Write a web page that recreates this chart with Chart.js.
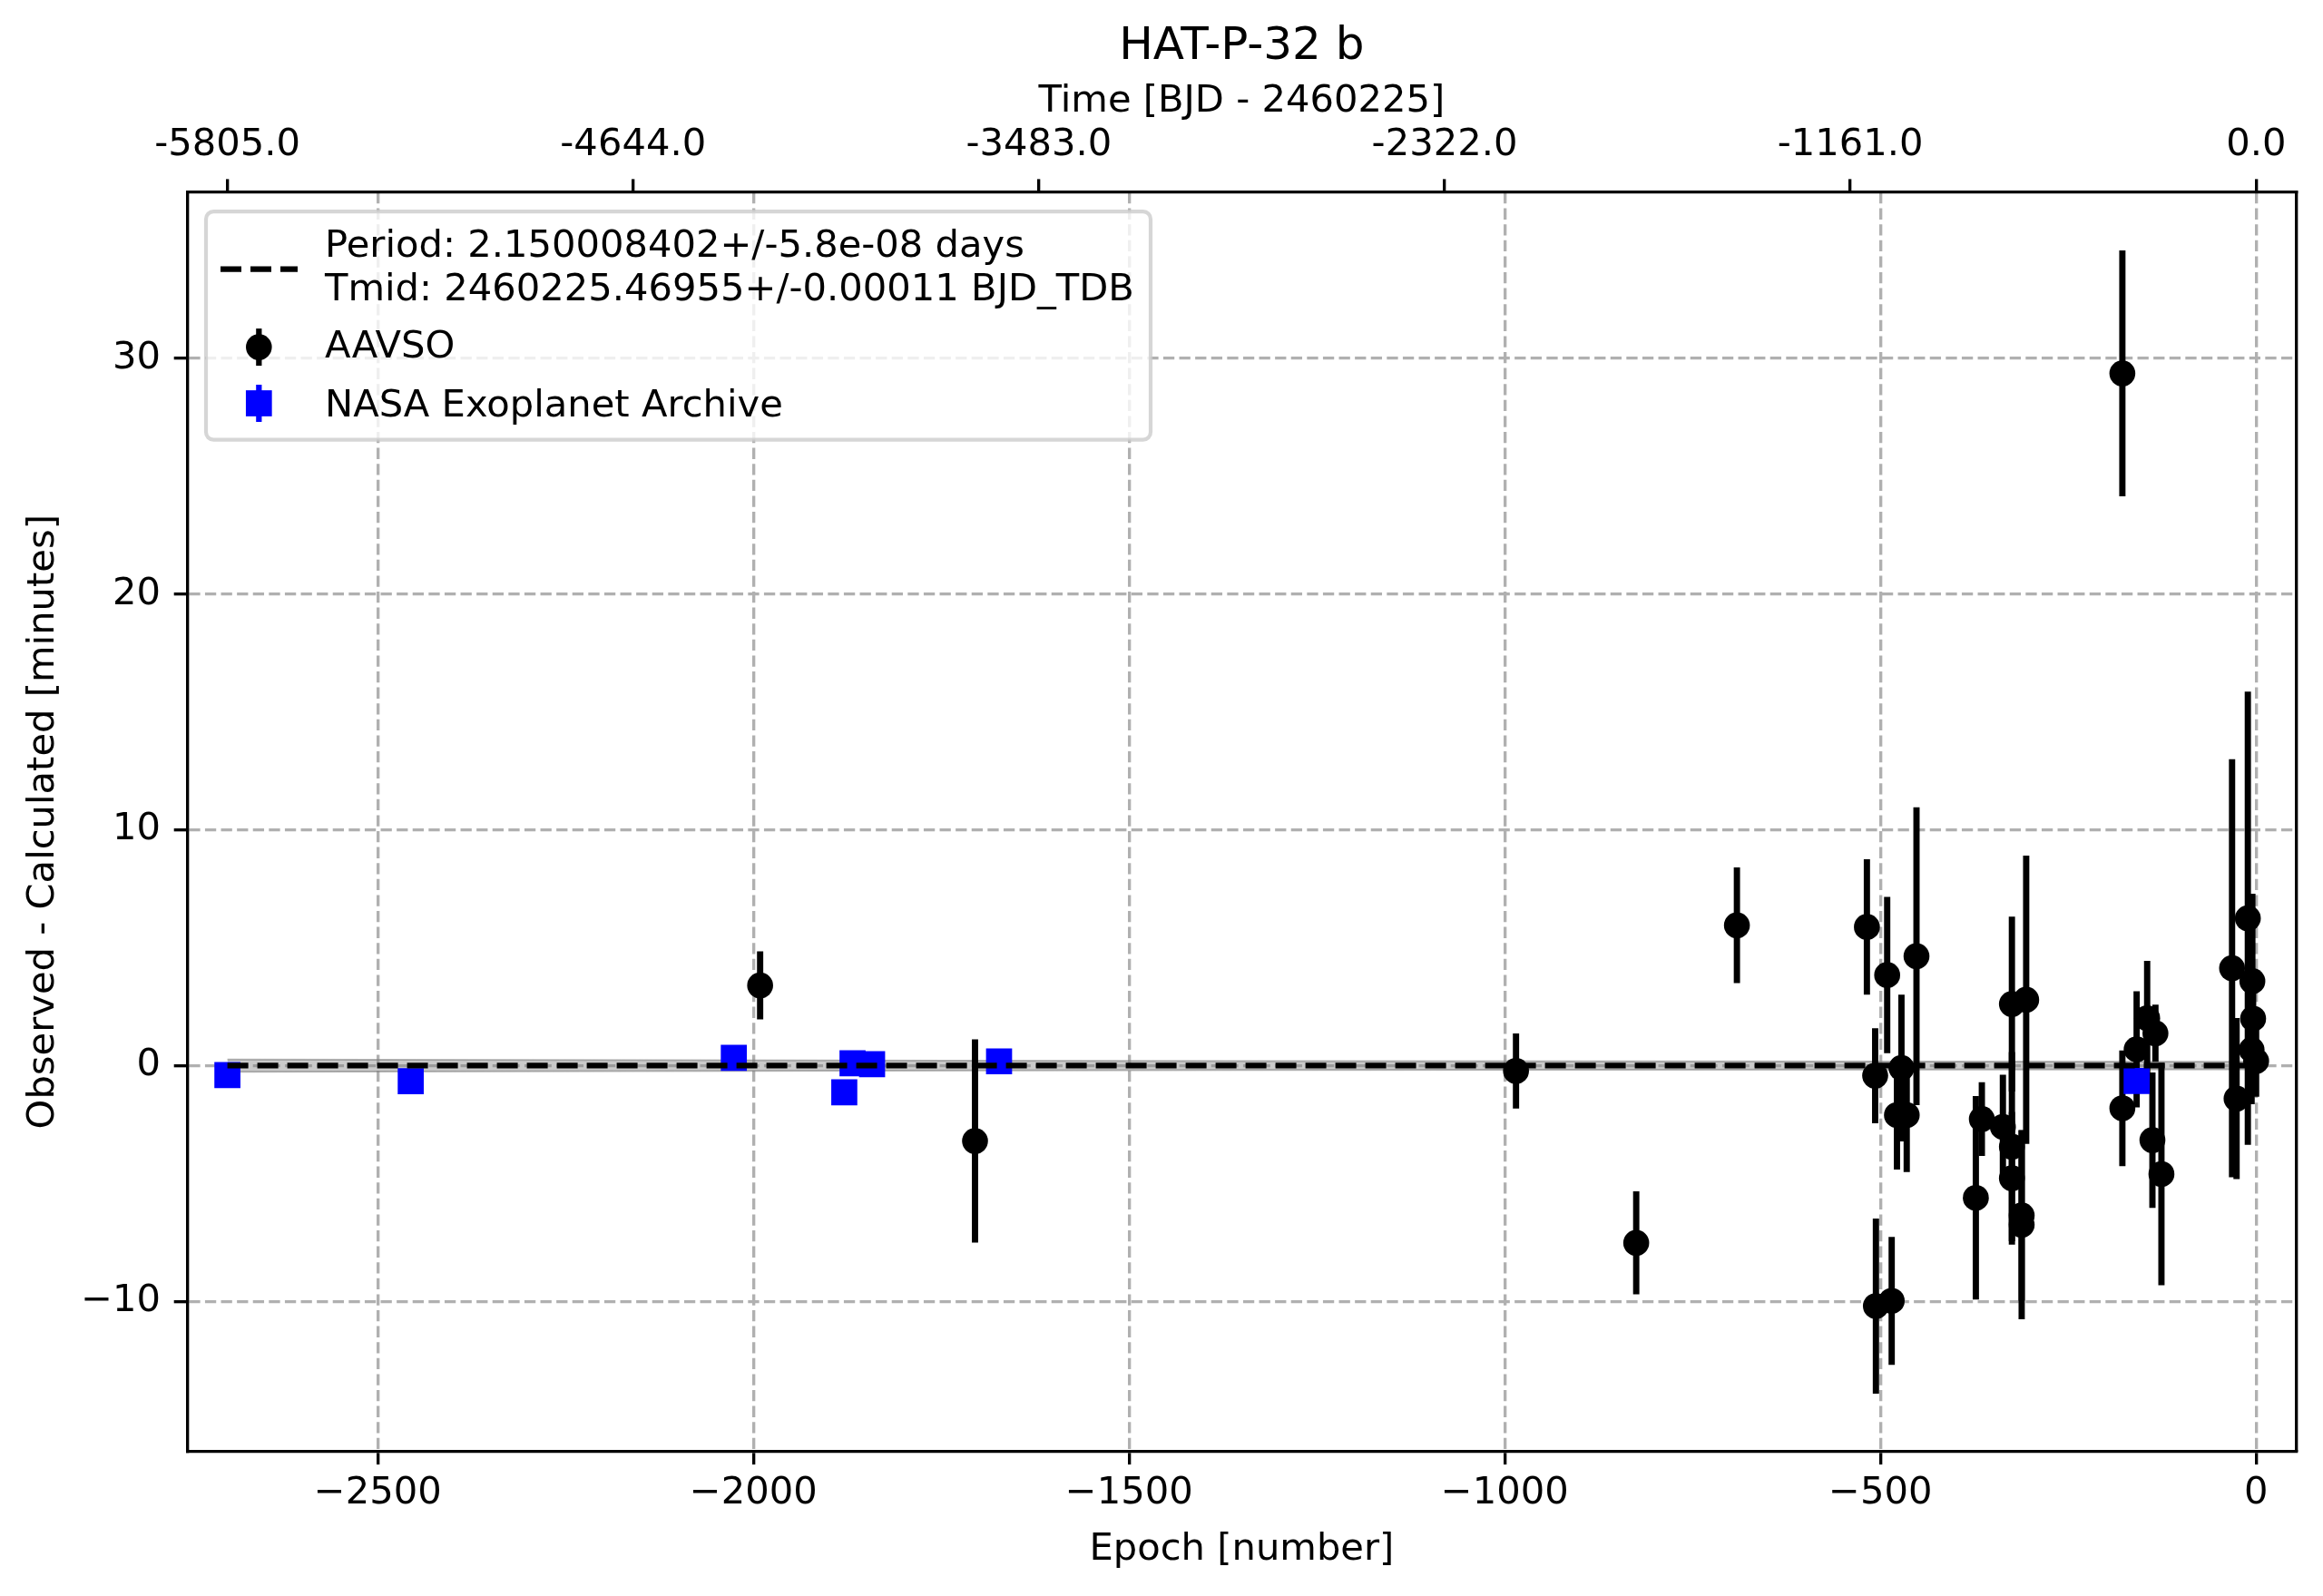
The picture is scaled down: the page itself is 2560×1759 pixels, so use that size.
<!DOCTYPE html>
<html>
<head>
<meta charset="utf-8">
<title>HAT-P-32 b O-C</title>
<script src="https://cdn.jsdelivr.net/npm/chart.js@4.4.1/dist/chart.umd.min.js"></script>
<style>
  html, body { margin: 0; padding: 0; background: #fff; }
  #holder { width: 2560px; height: 1759px; }
</style>
</head>
<body>
<div id="holder"><canvas id="oc"></canvas></div>
<script>
// AAVSO transits: epoch, O-C [min], 1-sigma [min]
const aavsoEpoch = [-1991, -1705, -985, -825, -691, -518, -507, -506, -491, -485,
  -478, -472, -465, -452, -373, -365, -337, -325, -325, -325,
  -312, -312, -306, -178, -178, -159, -145, -138, -134, -126,
  -32, -26, -11, -6, -5, -4, 0];
const aavsoOmc = [3.40, -3.20, -0.23, -7.52, 5.95, 5.88, -0.43, -10.20, 3.84, -9.98,
  -2.10, -0.10, -2.10, 4.64, -5.61, -2.27, -2.60, 2.61, -3.44, -4.78,
  -6.36, -6.75, 2.79, 29.36, -1.81, 0.69, 2.01, -3.16, 1.37, -4.60,
  4.13, -1.40, 6.25, 0.67, 3.58, 1.99, 0.19];
const aavsoErr = [1.43, 4.30, 1.58, 2.17, 2.44, 2.86, 2.00, 3.70, 3.30, 2.70,
  2.30, 3.10, 2.40, 6.30, 4.30, 1.55, 2.20, 3.70, 4.00, 2.80,
  3.60, 4.00, 6.10, 5.20, 2.44, 2.45, 2.42, 2.86, 1.20, 4.70,
  8.85, 3.40, 9.60, 2.30, 3.70, 1.50, 1.50];

// NASA Exoplanet Archive
const nasaEpoch = [-2700, -2456, -2026, -1879, -1868, -1842, -1673, -159];
const nasaOmc = [-0.40, -0.66, 0.33, -1.13, 0.10, 0.06, 0.18, -0.65];
const nasaErr = [0.25, 0.25, 0.30, 0.30, 0.30, 0.30, 0.30, 0.35];

// fitted ephemeris (O-C = 0) and its uncertainty band
const fitEpoch = [-2700, 0];
const bandEpoch = [-2700, -1350, 0];
const bandHalf = [0.26, 0.19, 0.16];

// axes
const xTicks = [-2500, -2000, -1500, -1000, -500, 0];
const yTicks = [-10, 0, 10, 20, 30];
const topTickEpochs = [-2700, -2160, -1620, -1080, -540, 0];
const topTickLabels = ['-5805.0', '-4644.0', '-3483.0', '-2322.0', '-1161.0', '0.0'];

const legendPeriod = 'Period: 2.150008402+/-5.8e-08 days';
const legendTmid = 'Tmid: 2460225.46955+/-0.00011 BJD_TDB';

const FONT = 'DejaVu Sans';
const FS = 41.67;          // 10 pt at 300 dpi
const LW = 3.33;           // 0.8 pt
const TL = 14.6;           // tick length

Chart.defaults.font.family = FONT;
Chart.defaults.color = '#000';

function points(xs, ys) {
  return xs.map((x, i) => ({ x: x, y: ys[i] }));
}
function errBars(xs, ys, es) {
  return xs.map((x, i) => ({ x: x, y: [ys[i] - es[i], ys[i] + es[i]] }));
}
function minus(v) {
  return v < 0 ? '\u2212' + Math.abs(v) : String(v);
}

// matplotlib-like legend box, top left of the axes
const legendPlugin = {
  id: 'mplLegend',
  afterDraw(chart) {
    const ctx = chart.ctx;
    const a = chart.chartArea;
    const ds = chart.data.datasets;
    const fit = ds.find(d => d.label === 'fit');
    const x0 = a.left + 20.7, y0 = a.top + 21.1;
    const hx = x0 + 58.3, tx = x0 + 131;

    ctx.save();
    ctx.beginPath();
    ctx.roundRect(x0, y0, 1041, 251.5, 8.3);
    ctx.fillStyle = 'rgba(255,255,255,0.8)';
    ctx.fill();
    ctx.lineWidth = 4.2;
    ctx.strokeStyle = 'rgba(204,204,204,0.8)';
    ctx.stroke();

    // fit line handle
    ctx.beginPath();
    ctx.setLineDash(fit.borderDash);
    ctx.lineWidth = fit.borderWidth;
    ctx.strokeStyle = fit.borderColor;
    ctx.moveTo(x0 + 16, y0 + 63.5);
    ctx.lineTo(x0 + 101, y0 + 63.5);
    ctx.stroke();
    ctx.setLineDash([]);

    // errorbar handles
    [['AAVSO', 149.5], ['NASA Exoplanet Archive', 211.4]].forEach(([lab, dy]) => {
      const d = ds.find(e => e.label === lab);
      const cy = y0 + dy;
      ctx.fillStyle = d.pointBackgroundColor;
      ctx.fillRect(hx - 3.1, cy - 20.5, 6.25, 41);
      ctx.beginPath();
      if (d.pointStyle === 'rect') {
        const s = d.pointRadius * Math.SQRT1_2;
        ctx.rect(hx - s, cy - s, 2 * s, 2 * s);
      } else {
        ctx.arc(hx, cy, d.pointRadius, 0, 2 * Math.PI);
      }
      ctx.fill();
    });

    ctx.fillStyle = '#000';
    ctx.font = FS + 'px "' + FONT + '"';
    ctx.textAlign = 'left';
    ctx.textBaseline = 'alphabetic';
    ctx.fillText(legendPeriod, tx, y0 + 49.7);
    ctx.fillText(legendTmid, tx, y0 + 97.5);
    ctx.fillText('AAVSO', tx, y0 + 160.7);
    ctx.fillText('NASA Exoplanet Archive', tx, y0 + 225.7);
    ctx.restore();
  }
};

const gridStyle = {
  offset: false,
  color: '#b0b0b0',
  lineWidth: LW,
  drawTicks: true,
  tickLength: TL,
  tickColor: '#000',
  tickWidth: LW
};
const borderStyle = { display: true, color: '#000', width: LW, dash: [12.3, 5.3] };

new Chart(document.getElementById('oc'), {
  type: 'scatter',
  data: {
    datasets: [
      {
        type: 'line', label: 'fit',
        data: fitEpoch.map(x => ({ x: x, y: 0 })),
        borderColor: '#000', borderWidth: 6.25, borderDash: [23, 10],
        pointRadius: 0, fill: false, order: 0
      },
      {
        type: 'scatter', label: 'NASA Exoplanet Archive',
        data: points(nasaEpoch, nasaOmc),
        pointStyle: 'rect', pointRadius: 20.3, pointBorderWidth: 0,
        pointBackgroundColor: '#0000ff', order: 1
      },
      {
        type: 'bar', label: 'nasaErr',
        data: errBars(nasaEpoch, nasaOmc, nasaErr),
        backgroundColor: '#0000ff', borderWidth: 0,
        barThickness: 6.25, grouped: false, order: 2
      },
      {
        type: 'scatter', label: 'AAVSO',
        data: points(aavsoEpoch, aavsoOmc),
        pointStyle: 'circle', pointRadius: 14.3, pointBorderWidth: 0,
        pointBackgroundColor: '#000000', order: 3
      },
      {
        type: 'bar', label: 'aavsoErr',
        data: errBars(aavsoEpoch, aavsoOmc, aavsoErr),
        backgroundColor: '#000000', borderWidth: 0,
        barThickness: 6.25, grouped: false, order: 4
      },
      {
        type: 'line', label: 'bandHi',
        data: points(bandEpoch, bandHalf),
        borderColor: 'rgba(128,128,128,0.6)', borderWidth: 2,
        backgroundColor: 'rgba(128,128,128,0.42)',
        pointRadius: 0, fill: '+1', order: 5
      },
      {
        type: 'line', label: 'bandLo',
        data: points(bandEpoch, bandHalf.map(v => -v)),
        borderColor: 'rgba(128,128,128,0.6)', borderWidth: 2,
        pointRadius: 0, fill: false, order: 6
      }
    ]
  },
  options: {
    responsive: true,
    maintainAspectRatio: false,
    devicePixelRatio: 1,
    animation: false,
    layout: { padding: { left: 0, right: 29.5, top: 0, bottom: 0 } },
    plugins: {
      legend: { display: false },
      tooltip: { enabled: false },
      title: {
        display: true, text: 'HAT-P-32 b', fullSize: false,
        font: { family: FONT, size: 50, weight: 'normal' },
        color: '#000',
        padding: { top: 21.7, bottom: 0 }
      }
    },
    scales: {
      x: {
        type: 'linear', position: 'bottom',
        min: -2753.5, max: 53.4, offset: false,
        afterBuildTicks: s => { s.ticks = xTicks.map(v => ({ value: v })); },
        afterFit: s => { s.height = 159.5; },
        ticks: {
          callback: v => minus(v), font: { size: FS }, color: '#000',
          padding: 7, maxRotation: 0, minRotation: 0, autoSkip: false
        },
        grid: gridStyle,
        border: borderStyle,
        title: {
          display: true, text: 'Epoch [number]', color: '#000',
          font: { size: FS }, padding: { top: 0, bottom: 26 }
        }
      },
      x2: {
        type: 'linear', position: 'top',
        min: -2753.5, max: 53.4, offset: false,
        afterBuildTicks: s => { s.ticks = topTickEpochs.map(v => ({ value: v })); },
        afterFit: s => { s.height = 130.3; },
        ticks: {
          callback: (v, i) => topTickLabels[i], font: { size: FS }, color: '#000',
          padding: 12.2, maxRotation: 0, minRotation: 0, autoSkip: false
        },
        grid: {
          offset: false, drawOnChartArea: false, drawTicks: true, tickLength: TL,
          tickColor: '#000', tickWidth: LW, color: '#000', lineWidth: LW
        },
        border: { display: true, color: '#000', width: LW },
        title: {
          display: true, text: 'Time [BJD - 2460225]', color: '#000',
          font: { size: FS }, padding: { top: 5.4, bottom: 0 }
        }
      },
      y: {
        type: 'linear', position: 'left',
        min: -16.36, max: 37.04,
        afterBuildTicks: s => { s.ticks = yTicks.map(v => ({ value: v })); },
        afterFit: s => { s.width = 206.3; },
        ticks: { callback: v => minus(v), font: { size: FS }, color: '#000', padding: TL },
        grid: gridStyle,
        border: borderStyle,
        title: {
          display: true, text: 'Observed - Calculated [minutes]', color: '#000',
          font: { size: FS }, padding: { top: 22.8, bottom: 0 }
        }
      },
      y2: {
        type: 'linear', position: 'right',
        min: -16.36, max: 37.04,
        afterFit: s => { s.width = 0; },
        ticks: { display: false },
        grid: { drawOnChartArea: false, drawTicks: false },
        border: { display: true, color: '#000', width: LW }
      }
    }
  },
  plugins: [legendPlugin]
});
</script>
</body>
</html>
